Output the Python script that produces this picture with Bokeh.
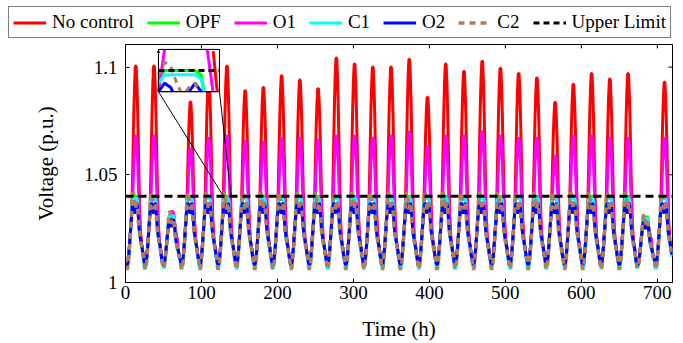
import numpy as np
from bokeh.plotting import figure
from bokeh.models import Legend, LegendItem, FixedTicker, Range1d
from bokeh.embed import file_html
from bokeh.resources import INLINE

# ---------------- data ----------------
n_days = 30
hours_per_day = 24

# daily peak voltage without control (p.u.)
red_peak = [1.1005, 1.1005, 1.033, 1.0838, 1.096, 1.1005, 1.089, 1.0905, 1.096, 1.094,
            1.090, 1.1042, 1.1014, 1.100, 1.100, 1.1036, 1.086, 1.1014, 1.098, 1.1027,
            1.0995, 1.097, 1.095, 1.0836, 1.092, 1.097, 1.0945, 1.097, 1.029, 1.093]
# daily peak voltage with O1
o1_peak = [1.068, 1.068, 1.033, 1.062, 1.067, 1.068, 1.0655, 1.065, 1.067, 1.067,
           1.066, 1.068, 1.068, 1.067, 1.068, 1.070, 1.063, 1.068, 1.068, 1.070,
           1.068, 1.067, 1.067, 1.0586, 1.068, 1.068, 1.067, 1.067, 1.029, 1.067]
# relative strength of the day for the controlled series (cloudy days lower)
lower_scale = [1.0, 1.0, 0.74, 1.0, 1.0, 1.0, 1.0, 1.0, 1.0, 1.0,
               1.0, 1.0, 1.0, 1.0, 1.0, 1.0, 1.0, 1.0, 1.0, 1.0,
               1.0, 1.0, 1.0, 1.0, 1.0, 1.0, 1.0, 1.0, 0.70, 1.0]

# daily shape of the PV-driven rise (0..1)
pv_shape = [0, 0, 0, 0, 0, 0, 0, 0.03, 0.12, 0.30, 0.52, 0.74, 0.90, 1.0,
            1.0, 0.90, 0.74, 0.52, 0.30, 0.12, 0.03, 0, 0, 0]
# hourly daily profiles of the controlled series (p.u.)
o2_profile = [1.011, 1.009, 1.008, 1.009, 1.012, 1.016, 1.021, 1.026, 1.031, 1.035, 1.037, 1.036,
              1.033, 1.032, 1.035, 1.037, 1.035, 1.030, 1.025, 1.022, 1.020, 1.018, 1.016, 1.013]
c1_profile = [1.010, 1.008, 1.006, 1.007, 1.011, 1.015, 1.020, 1.026, 1.032, 1.037, 1.039, 1.039,
              1.039, 1.039, 1.039, 1.039, 1.038, 1.031, 1.025, 1.021, 1.019, 1.017, 1.015, 1.012]
opf_profile = [1.011, 1.009, 1.008, 1.009, 1.012, 1.016, 1.021, 1.026, 1.032, 1.038, 1.040, 1.040,
               1.040, 1.040, 1.040, 1.040, 1.039, 1.031, 1.025, 1.022, 1.020, 1.018, 1.016, 1.013]
c2_profile = [1.012, 1.007, 1.006, 1.007, 1.010, 1.015, 1.020, 1.026, 1.033, 1.039, 1.042, 1.041,
              1.037, 1.034, 1.036, 1.037, 1.034, 1.028, 1.024, 1.022, 1.019, 1.017, 1.015, 1.013]
night_level = 1.008
pv_base = 1.02
upper_limit = 1.04

x_ticks = [0, 100, 200, 300, 400, 500, 600, 700]
y_ticks = [1.0, 1.05, 1.1]
y_tick_labels = ["1", "1.05", "1.1"]

# inset (zoom) settings
inset_box = (43.4, 123.7, 1.0886, 1.1082)   # left, right, bottom, top (data units)
zoom_src = (129.0, 139.0, 1.035, 1.045)

# ---------------- build series ----------------
t = np.arange(n_days * hours_per_day)
pv = np.array(pv_shape)


def lower(profile):
    prof = np.array(profile)
    return np.concatenate([night_level + (prof - night_level) * s for s in lower_scale])


o2 = lower(o2_profile)
c1 = lower(c1_profile)
opf = lower(opf_profile)
c2 = lower(c2_profile)


def upper(peaks):
    out = []
    for d, pk in enumerate(peaks):
        base = o2[d * 24:(d + 1) * 24]
        rise = pv_base + pv * (pk - pv_base)
        out.append(np.where(pv > 0, np.maximum(base, rise), base))
    return np.concatenate(out)


red = upper(red_peak)
o1 = upper(o1_peak)

series = [
    ("No control", red, "#FF0000", None),
    ("OPF", opf, "#00FF00", None),
    ("O1", o1, "#FF00FF", None),
    ("C1", c1, "#00FFFF", None),
    ("O2", o2, "#0000FF", None),
    ("C2", c2, "#B47C5E", "6 5"),
]
limit_style = dict(line_color="black", line_width=3, line_dash="8 5")

FONT = "Liberation Serif"
X0, X1, Y0, Y1 = 0, 720, 1.0, 1.1105


def style_kw(col, dash):
    kw = dict(line_color=col, line_width=3)
    if dash:
        kw["line_dash"] = dash
        kw["line_width"] = 3.5
    return kw


# ---------------- main plot ----------------
p = figure(width=680, height=302, x_range=Range1d(X0, X1), y_range=Range1d(Y0, Y1),
           output_backend="svg", toolbar_location=None,
           min_border_left=125, min_border_right=8, min_border_top=3, min_border_bottom=56)
p.xgrid.visible = False
p.ygrid.visible = False
p.outline_line_color = "black"
p.outline_line_width = 1
p.background_fill_color = "white"

for name, y, col, dash in series:
    p.line(t, y, **style_kw(col, dash))
p.line([X0, X1], [upper_limit, upper_limit], **limit_style)

# inset
L, R, B, T = inset_box
x0, x1, y0, y1 = zoom_src
p.quad(left=L, right=R, bottom=B, top=T, fill_color="white", line_color="black", line_width=1)
hh = np.linspace(x0, x1, 401)
XX = L + (hh - x0) * (R - L) / (x1 - x0)
for name, y, col, dash in series + [("Upper Limit", np.full(t.shape, upper_limit), "black", "6 4")]:
    vv = np.interp(hh, t, y)
    vv = np.where((vv >= y0) & (vv <= y1), vv, np.nan)
    YY = B + (vv - y0) * (T - B) / (y1 - y0)
    kw = dict(line_color=col, line_width=3)
    if dash:
        kw["line_dash"] = dash
    p.line(XX, YY, **kw)
p.quad(left=L, right=R, bottom=B, top=T, fill_alpha=0, line_color="black", line_width=1)
p.line([L, x0], [B, upper_limit], line_color="black", line_width=1)
p.line([R, x1], [B, upper_limit], line_color="black", line_width=1)

# mirrored tick marks on top and right
tick_len_y = 4 * (Y1 - Y0) / 243.0
tick_len_x = 4 * (X1 - X0) / 547.0
p.segment(x0=x_ticks, y0=[Y1] * len(x_ticks), x1=x_ticks, y1=[Y1 - tick_len_y] * len(x_ticks),
          line_color="black", line_width=1)
p.segment(x0=[X1] * len(y_ticks), y0=y_ticks, x1=[X1 - tick_len_x] * len(y_ticks), y1=y_ticks,
          line_color="black", line_width=1)

# axes
for ax in (p.xaxis[0], p.yaxis[0]):
    ax.major_tick_in = 4
    ax.major_tick_out = 0
    ax.minor_tick_line_color = None
    ax.major_label_text_font = FONT
    ax.major_label_text_font_size = "19px"
    ax.major_label_text_color = "black"
    ax.axis_label_text_font = FONT
    ax.axis_label_text_font_size = "21px"
    ax.axis_label_text_font_style = "normal"
    ax.axis_label_text_color = "black"
    ax.axis_line_color = "black"
p.xaxis.ticker = FixedTicker(ticks=x_ticks)
p.yaxis.ticker = FixedTicker(ticks=y_ticks)
p.yaxis.major_label_overrides = {v: s for v, s in zip(y_ticks, y_tick_labels)}
p.xaxis.axis_label = "Time (h)"
p.yaxis.axis_label = "Voltage (p.u.)"
p.xaxis.major_label_standoff = 3
p.yaxis.major_label_standoff = 8
p.xaxis.axis_label_standoff = 15
p.yaxis.axis_label_standoff = 23

# ---------------- legend strip ----------------
lg = figure(width=680, height=41, x_range=Range1d(0, 1), y_range=Range1d(0, 1),
            output_backend="svg", toolbar_location=None,
            x_axis_location=None, y_axis_location=None,
            min_border_left=0, min_border_right=0, min_border_top=0, min_border_bottom=0)
lg.outline_line_color = None
lg.xgrid.visible = False
lg.ygrid.visible = False
proxy_x = [-5, -4]
proxy_y = [-5, -4]
leg_r = {}
for name, y, col, dash in series:
    leg_r[name] = lg.line(proxy_x, proxy_y, **style_kw(col, dash))
leg_r["Upper Limit"] = lg.line(proxy_x, proxy_y, line_color="black", line_width=3, line_dash="6 4")

items = [LegendItem(label=n, renderers=[leg_r[n]]) for n in
         ["No control", "OPF", "O1", "C1", "O2", "C2", "Upper Limit"]]
legend = Legend(items=items, orientation="horizontal", location=(8, 3),
                border_line_color="black", border_line_width=1, background_fill_alpha=1,
                label_text_font=FONT, label_text_font_size="19px", label_text_color="black",
                glyph_width=33, glyph_height=19, label_height=19,
                label_standoff=6, spacing=13, padding=4, margin=0)
lg.add_layout(legend, "center")

open("out.html", "w").write(file_html([lg, p], INLINE))
